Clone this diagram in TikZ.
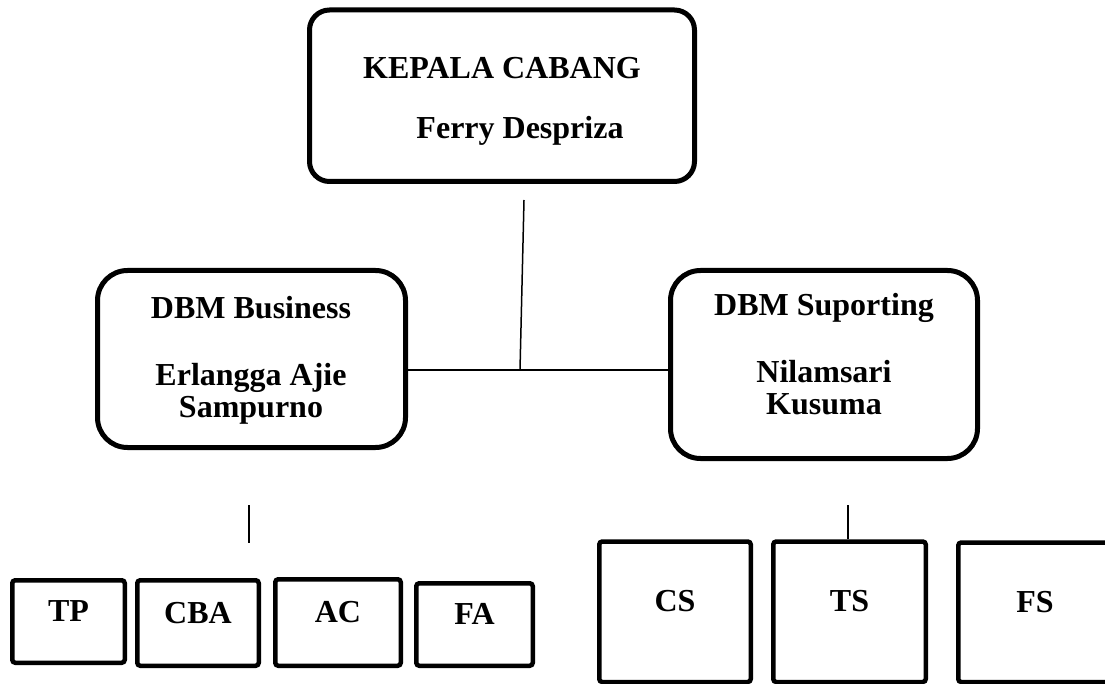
\documentclass[tikz,border=0pt]{standalone}
\usepackage{fontspec}
\setmainfont{Liberation Serif}
\tikzstyle{head}=[draw,line width=5pt,rounded corners=30pt,inner sep=0pt]
\tikzstyle{headtext}=[align=center,anchor=north,inner sep=0pt]
\tikzstyle{unit}=[draw,line width=4.5pt,rounded corners=3pt,inner sep=0pt,text height=22pt,text depth=22pt]
\tikzstyle{link}=[draw,line width=1.5pt,-]

\begin{document}
\begin{tikzpicture}[x=1pt,y=-1pt,font=\bfseries\fontsize{32}{32}\selectfont]
    \useasboundingbox (0,0) rectangle (1105,684);
    \clip (0,0) rectangle (1105,684);
    % Head of the branch and the two deputies
    \node[head,rounded corners=20pt,minimum width=385pt,minimum height=171.5pt] (kc) at (502,95.75) {};
    \node[headtext] (kctext) at (502,57) {KEPALA CABANG\\[28pt]\hspace*{36pt}Ferry Despriza};
    \node[head,minimum width=308pt,minimum height=177pt] (dbmb) at (251.5,359) {};
    \node[headtext] (dbmbtext) at (251,296) {DBM Business\\[35pt]Erlangga Ajie\\Sampurno};
    \node[head,minimum width=307pt,minimum height=188pt] (dbms) at (824,364.5) {};
    \node[headtext] (dbmstext) at (824,293) {DBM Suporting\\[35pt]Nilamsari\\Kusuma};
    % Units under each deputy
    \foreach \pos/\name/\w/\h in {{(68.5,621.5)/TP/112.5/82.5}, {(198,623)/CBA/121.5/85.5}, {(338,622.5)/AC/125.5/86.5}, {(474.5,624.5)/FA/116.5/82.5}, {(675,611.75)/CS/151.5/140.5}, {(849.5,611.75)/TS/152.5/140.5}, {(1035,612.25)/FS/153.5/139.5}}
        \node[unit,minimum width=\w pt,minimum height=\h pt] (\name) at \pos {\name};
    % Connecting lines
    \coordinate (top) at (524,200);
    \coordinate (jn) at (520,370);
    \path[link] (top) -- (jn);
    \path[link] (dbmb.east |- jn) -- (dbms.west |- jn);
    \coordinate (lt) at (249,505);
    \coordinate (lb) at (249,543);
    \path[link] (lt) -- (lb);
    \coordinate (rt) at (848,505);
    \path[link] (rt) -- (rt |- TS.north);
\end{tikzpicture}
\end{document}
